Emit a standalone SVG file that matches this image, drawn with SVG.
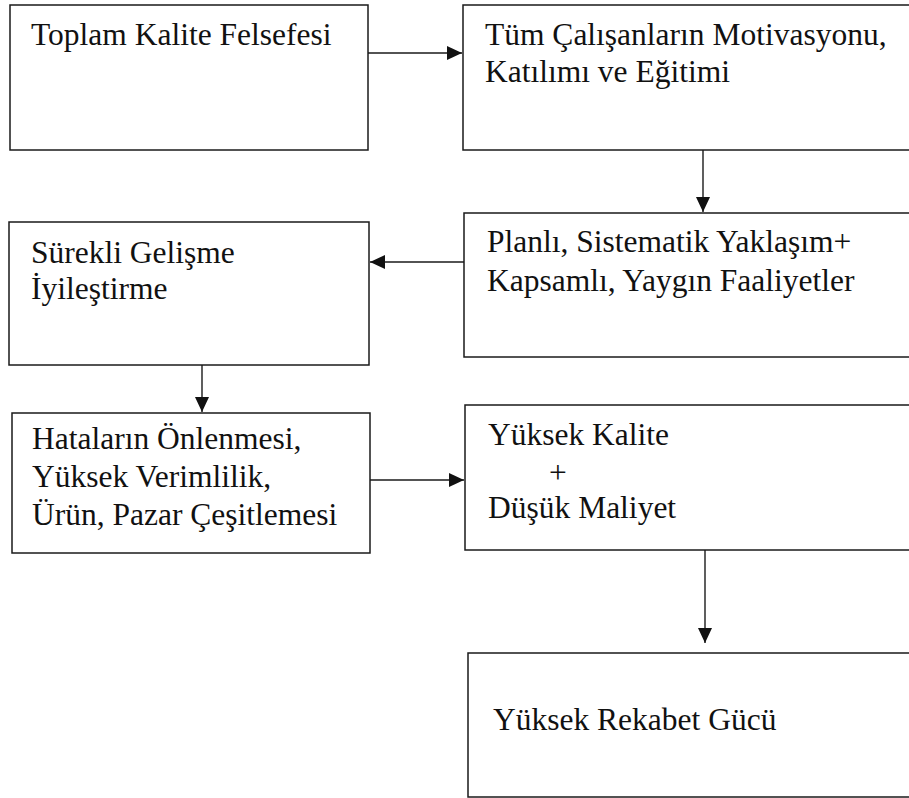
<svg xmlns="http://www.w3.org/2000/svg" width="909" height="798" viewBox="0 0 909 798">
<style>
.box{fill:#fff;stroke:#1a1a1a;stroke-width:1.5}
.c{stroke:#1a1a1a;stroke-width:1.4;fill:none;marker-end:url(#ah)}
</style>
<defs>
<marker id="ah" markerUnits="userSpaceOnUse" markerWidth="16" markerHeight="14" refX="15" refY="7" orient="auto">
<path d="M0,0 L15,7 L0,14 Z" fill="#111"/>
</marker>
</defs>
<rect width="909" height="798" fill="#fff"/>
<g id="n1"><rect class="box" x="10" y="5" width="358" height="145"/><text font-family="Liberation Serif" font-size="31.5" fill="#111" x="31" y="45">Toplam Kalite Felsefesi</text></g>
<g id="n2"><rect class="box" x="463" y="5" width="460" height="145"/><text font-family="Liberation Serif" font-size="31.5" fill="#111" x="485" y="45">Tüm Çalışanların Motivasyonu,</text><text font-family="Liberation Serif" font-size="31.5" fill="#111" x="485" y="82">Katılımı ve Eğitimi</text></g>
<g id="n3"><rect class="box" x="464" y="213" width="460" height="144"/><text font-family="Liberation Serif" font-size="31.5" fill="#111" x="487" y="252">Planlı, Sistematik Yaklaşım+</text><text font-family="Liberation Serif" font-size="31.5" fill="#111" x="487" y="291">Kapsamlı, Yaygın Faaliyetler</text></g>
<g id="n4"><rect class="box" x="9" y="222" width="360" height="143"/><text font-family="Liberation Serif" font-size="31.5" fill="#111" x="31" y="263">Sürekli Gelişme</text><text font-family="Liberation Serif" font-size="31.5" fill="#111" x="31" y="299">İyileştirme</text></g>
<g id="n5"><rect class="box" x="12" y="413" width="358" height="140"/><text font-family="Liberation Serif" font-size="31.5" fill="#111" x="32" y="449">Hataların Önlenmesi,</text><text font-family="Liberation Serif" font-size="31.5" fill="#111" x="32" y="487">Yüksek Verimlilik,</text><text font-family="Liberation Serif" font-size="31.5" fill="#111" x="32" y="525">Ürün, Pazar Çeşitlemesi</text></g>
<g id="n6"><rect class="box" x="465" y="405" width="460" height="145"/><text font-family="Liberation Serif" font-size="31.5" fill="#111" x="488" y="445">Yüksek Kalite</text><text font-family="Liberation Serif" font-size="31.5" fill="#111" x="558" y="483" text-anchor="middle">+</text><text font-family="Liberation Serif" font-size="31.5" fill="#111" x="488" y="518">Düşük Maliyet</text></g>
<g id="n7"><rect class="box" x="468" y="653" width="460" height="144"/><text font-family="Liberation Serif" font-size="31.5" fill="#111" x="493" y="730">Yüksek Rekabet Gücü</text></g>
<g id="connectors">
<line class="c" x1="368" y1="53" x2="462" y2="53"/>
<line class="c" x1="703" y1="150" x2="703" y2="212"/>
<line class="c" x1="464" y1="262" x2="370" y2="262"/>
<line class="c" x1="202" y1="365" x2="202" y2="412"/>
<line class="c" x1="370" y1="480" x2="464" y2="480"/>
<line class="c" x1="705" y1="550" x2="705" y2="643"/>
</g>
</svg>
